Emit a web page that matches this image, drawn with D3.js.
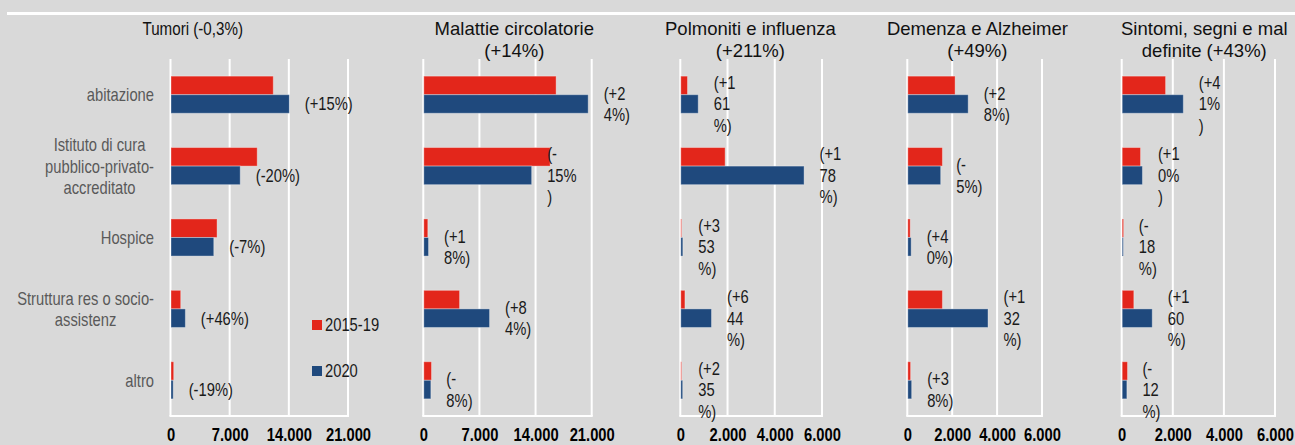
<!DOCTYPE html>
<html>
<head>
<meta charset="utf-8">
<script src="https://cdn.jsdelivr.net/npm/d3@7"></script>
<style>
  html, body { margin: 0; padding: 0; background: #d9d9d9; }
  svg { display: block; }
</style>
</head>
<body>
<svg id="chart" width="1295" height="445"></svg>
<script>
// ---------------- DATA ----------------
const categories = ["abitazione", "Istituto di cura|pubblico-privato-|accreditato", "Hospice", "Struttura res o socio-|assistenz", "altro"];
const seriesNames = ["2015-19", "2020"];

const panelTitles = [
  ["Tumori (-0,3%)"],
  ["Malattie circolatorie", "(+14%)"],
  ["Polmoniti e influenza", "(+211%)"],
  ["Demenza e Alzheimer", "(+49%)"],
  ["Sintomi, segni e mal", "definite (+43%)"]
];

const ticksLarge = [0, 7000, 14000, 21000];
const ticksSmall = [0, 2000, 4000, 6000];

const tumori2015 = [12100, 10200, 5450, 1150, 320];
const tumori2020 = [14000, 8190, 5060, 1700, 260];
const circ2015 = [16500, 15750, 500, 4460, 960];
const circ2020 = [20500, 13450, 590, 8200, 880];
const polm2015 = [283, 1877, 19, 175, 24];
const polm2020 = [738, 5220, 86, 1300, 80];
const dem2015 = [2107, 1542, 107, 1542, 125];
const dem2020 = [2690, 1465, 150, 3573, 172];
const sint2015 = [1698, 718, 55, 455, 208];
const sint2020 = [2392, 792, 45, 1176, 183];

const tumoriLabels = ["(+15%)", "(-20%)", "(-7%)", "(+46%)", "(-19%)"];
const circLabels = ["(+2|4%)", "(-|15%|)", "(+1|8%)", "(+8|4%)", "(-|8%)"];
const polmLabels = ["(+1|61|%)", "(+1|78|%)", "(+3|53|%)", "(+6|44|%)", "(+2|35|%)"];
const demLabels = ["(+2|8%)", "(-|5%)", "(+4|0%)", "(+1|32|%)", "(+3|8%)"];
const sintLabels = ["(+4|1%|)", "(+1|0%|)", "(-|18|%)", "(+1|60|%)", "(-|12|%)"];

// ---------------- LAYOUT ----------------
const panels = [
  { title: panelTitles[0], a: tumori2015, b: tumori2020, labels: tumoriLabels, ticks: ticksLarge, x0: 170.5, x1: 348, titleX: 192.7, narrowTitle: true },
  { title: panelTitles[1], a: circ2015, b: circ2020, labels: circLabels, ticks: ticksLarge, x0: 423.3, x1: 591.7, titleX: 514.3 },
  { title: panelTitles[2], a: polm2015, b: polm2020, labels: polmLabels, ticks: ticksSmall, x0: 680.3, x1: 822, titleX: 750.4 },
  { title: panelTitles[3], a: dem2015, b: dem2020, labels: demLabels, ticks: ticksSmall, x0: 907.3, x1: 1042, titleX: 977.4 },
  { title: panelTitles[4], a: sint2015, b: sint2020, labels: sintLabels, ticks: ticksSmall, x0: 1121.7, x1: 1275, titleX: 1204.3 }
];

const plotTop = 59, plotBottom = 416;
const tickBaseline = 441;
const colors = { "2015-19": "#e3261b", "2020": "#1f497d" };
const fs = 18, lineH = 21.5;

const svg = d3.select("#chart");

// font detection: narrow face or horizontally scaled regular
const probe = svg.append("text").style("font-size", "100px").text("abitazione abitazione");
probe.style("font-family", "'Liberation Sans Narrow'");
const wN = probe.node().getComputedTextLength();
probe.style("font-family", "'Liberation Sans'");
const wR = probe.node().getComputedTextLength();
probe.remove();
const hasNarrow = wN < wR * 0.9;
const narrowFamily = hasNarrow ? "'Liberation Sans Narrow', 'Arial Narrow', sans-serif" : "'Liberation Sans', Arial, sans-serif";
const sx = hasNarrow ? 1 : 0.82;

function ntext(g, str, x, cy, o = {}) {
  const size = o.size || fs;
  return g.append("text")
    .attr("transform", `translate(${x},${cy + 0.36 * size}) scale(${sx},1)`)
    .attr("text-anchor", o.anchor || "start")
    .style("font-family", narrowFamily)
    .style("font-size", size + "px")
    .style("font-weight", o.weight || "normal")
    .style("fill", o.fill || "#262626")
    .text(str);
}
function rtext(g, str, x, cy, o = {}) {
  const size = o.size || fs;
  return g.append("text")
    .attr("x", x).attr("y", cy + 0.36 * size)
    .attr("text-anchor", o.anchor || "middle")
    .style("font-family", "'Liberation Sans', Arial, sans-serif")
    .style("font-size", size + "px")
    .style("fill", o.fill || "#1a1a1a")
    .text(str);
}

// top white rule
svg.append("rect").attr("x", 7).attr("y", 12).attr("width", 1288).attr("height", 3).attr("fill", "#ffffff");

const yBand = d3.scaleBand().domain(categories).range([plotTop, plotBottom]).paddingInner(0.48).paddingOuter(0.24);
const ySub = d3.scaleBand().domain(seriesNames).range([0, yBand.bandwidth()]);

const locale = d3.formatLocale({ decimal: ",", thousands: ".", grouping: [3], currency: ["", "€"] });
const fmt = locale.format(",d");

// category labels (left of first panel)
const catG = svg.append("g");
categories.forEach(c => {
  const lines = c.split("|");
  const cy = yBand(c) + yBand.bandwidth() / 2;
  const tmp = lines.map(l => ntext(catG, l, 0, 0, { fill: "#595959" }));
  const widths = tmp.map(t => t.node().getComputedTextLength() * sx);
  tmp.forEach(t => t.remove());
  const maxW = d3.max(widths);
  const right = 154;
  lines.forEach((l, i) => {
    const ly = cy + (i - (lines.length - 1) / 2) * lineH;
    if (lines.length === 1) ntext(catG, l, right, ly, { anchor: "end", fill: "#595959" });
    else ntext(catG, l, right - maxW / 2, ly, { anchor: "middle", fill: "#595959" });
  });
});

panels.forEach(p => {
  const g = svg.append("g");
  const x = d3.scaleLinear().domain([0, d3.max(p.ticks)]).range([p.x0, p.x1]);

  // gridlines
  g.selectAll("line.grid").data(p.ticks).join("line")
    .attr("x1", d => x(d)).attr("x2", d => x(d))
    .attr("y1", plotTop).attr("y2", plotBottom)
    .attr("stroke", "#ffffff").attr("stroke-width", 2);
  g.append("line").attr("x1", x(0) - 1).attr("x2", x(d3.max(p.ticks)) + 1)
    .attr("y1", plotBottom).attr("y2", plotBottom)
    .attr("stroke", "#ffffff").attr("stroke-width", 2);

  // tick labels via axis, restyled with the narrow bold face
  const axis = d3.axisBottom(x).tickValues(p.ticks).tickFormat(fmt).tickSize(0);
  const ag = g.append("g").attr("transform", `translate(0,${plotBottom})`).call(axis);
  ag.select(".domain").remove();
  ag.selectAll(".tick").each(function (d) {
    const tick = d3.select(this);
    tick.select("line").remove();
    tick.select("text").remove();
    ntext(tick, fmt(d), 0, tickBaseline - 0.36 * fs - plotBottom, { anchor: "middle", weight: "bold", fill: "#000000" });
  });

  // bars
  categories.forEach((c, i) => {
    const vals = [p.a[i], p.b[i]];
    seriesNames.forEach((s, j) => {
      g.append("rect")
        .attr("x", x(0) + 0.5)
        .attr("y", yBand(c) + ySub(s))
        .attr("width", Math.max(0.8, x(vals[j]) - x(0)))
        .attr("height", ySub.bandwidth())
        .attr("fill", colors[s])
        .attr("stroke", "rgba(255,255,255,0.35)")
        .attr("stroke-width", 1);
    });
    // value label next to 2020 bar
    const lines = p.labels[i].split("|");
    const cy = yBand(c) + ySub("2020") + ySub.bandwidth() / 2;
    const lx = x(p.b[i]) + 16;
    lines.forEach((l, k) => {
      ntext(g, l, lx, cy + (k - (lines.length - 1) / 2) * lineH, { fill: "#1a1a1a" });
    });
  });

  // title
  p.title.forEach((t, k) => {
    const cy = 28 + k * 22;
    if (p.narrowTitle) ntext(g, t, p.titleX, cy, { anchor: "middle", size: 18.5, fill: "#111" });
    else rtext(g, t, p.titleX, cy, { size: 18.5, fill: "#111" });
  });
});

// legend
const leg = svg.append("g");
seriesNames.forEach((s, i) => {
  const ly = 320 + i * 46;
  leg.append("rect").attr("x", 312).attr("y", ly).attr("width", 10).attr("height", 10).attr("fill", colors[s]);
  ntext(leg, s, 325, ly + 5, { fill: "#1a1a1a" });
});
</script>
</body>
</html>
